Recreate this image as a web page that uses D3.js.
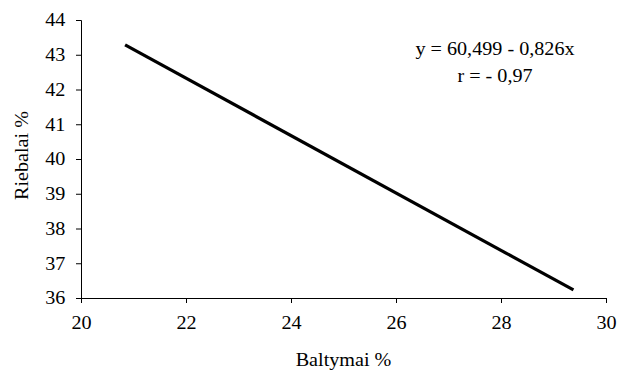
<!DOCTYPE html>
<html>
<head>
<meta charset="utf-8">
<script src="https://cdn.jsdelivr.net/npm/d3@7"></script>
<style>
  body { margin: 0; background: #fff; }
  text { font-family: "Liberation Serif", "Times New Roman", serif; fill: #000; }
</style>
</head>
<body>
<div id="chart"></div>
<script>
var xTicks = [20, 22, 24, 26, 28, 30];
var yTicks = [36, 37, 38, 39, 40, 41, 42, 43, 44];
var lineX = [20.84, 29.38];
var intercept = 60.499, slope = -0.826;
var eqLines = ["y = 60,499 - 0,826x", "r = - 0,97"];

var width = 624, height = 370;
var m = {left: 81, right: 18, top: 20, bottom: 72};
var stretch = 1.12; // reference text is a bit wider than Times

var svg = d3.select('#chart').append('svg')
    .attr('width', width)
    .attr('height', height);

var x = d3.scaleLinear().domain([20, 30]).range([m.left, width - m.right]);
var y = d3.scaleLinear().domain([36, 44]).range([height - m.bottom, m.top]);

var xAxis = svg.append('g')
    .attr('transform', 'translate(0,' + (height - m.bottom) + ')')
    .call(d3.axisBottom(x).tickValues(xTicks).tickSize(5).tickPadding(13).tickFormat(d3.format('d')));
var yAxis = svg.append('g')
    .attr('transform', 'translate(' + m.left + ',0)')
    .call(d3.axisLeft(y).tickValues(yTicks).tickSize(5).tickPadding(9).tickFormat(d3.format('d')));

[xAxis, yAxis].forEach(function(g){
    g.attr('font-family', '"Liberation Serif", serif').attr('font-size', 18);
    g.selectAll('path').attr('stroke', '#000').attr('stroke-width', 1);
    g.selectAll('line').attr('stroke', '#000');
    g.selectAll('text').attr('fill', '#000').attr('transform', 'scale(' + stretch + ',1)');
});

var pts = lineX.map(function(v){ return [v, intercept + slope * v]; });
svg.append('path')
    .datum(pts)
    .attr('d', d3.line().x(function(d){ return x(d[0]); }).y(function(d){ return y(d[1]); }))
    .attr('fill', 'none')
    .attr('stroke', '#000')
    .attr('stroke-width', 3.2);

svg.append('text')
    .attr('transform', 'translate(' + x(25) + ',366) scale(' + stretch + ',1)')
    .attr('text-anchor', 'middle')
    .style('font-size', '18px')
    .text('Baltymai %');

svg.append('text')
    .attr('transform', 'translate(28,' + y(40.1) + ') rotate(-90) scale(' + stretch + ',1)')
    .attr('text-anchor', 'middle')
    .style('font-size', '18px')
    .text('Riebalai %');

svg.selectAll('.eq')
    .data(eqLines)
    .enter()
    .append('text')
    .attr('class', 'eq')
    .attr('transform', function(d, i){ return 'translate(495,' + (55 + i * 27) + ') scale(' + stretch + ',1)'; })
    .attr('text-anchor', 'middle')
    .style('font-size', '18px')
    .text(function(d){ return d; });
</script>
</body>
</html>
